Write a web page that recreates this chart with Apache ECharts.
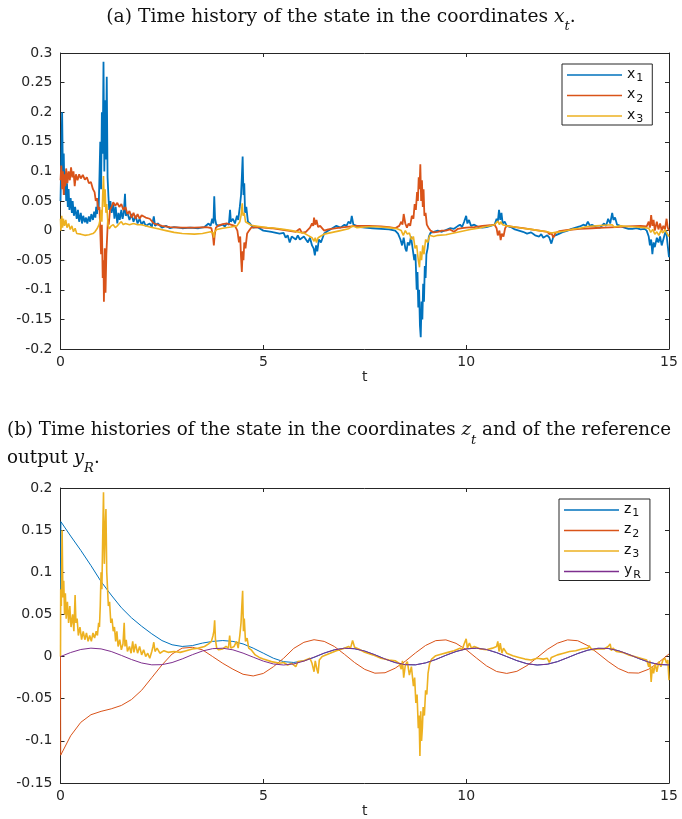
<!DOCTYPE html>
<html>
<head>
<meta charset="utf-8">
<script src="https://cdn.jsdelivr.net/npm/echarts@6/dist/echarts.min.js"></script>
<style>
html,body{margin:0;padding:0;background:#fff;}
#main{width:682px;height:819px;}
</style>
</head>
<body>
<div id="main"></div>
<script>
// panel (a): state in coordinates x_t, pairs [t, value]
var x1 = [[0,0.05],[0.02,0.12],[0.04,0.2],[0.06,0.09],[0.08,0.13],[0.1,0.06],[0.12,0.1],[0.14,0.05],[0.16,0.08],[0.18,0.04],[0.2,0.07],[0.22,0.035],[0.25,0.055],[0.28,0.03],[0.3,0.05],[0.33,0.025],[0.36,0.04],[0.4,0.02],[0.43,0.035],[0.46,0.015],[0.5,0.03],[0.53,0.012],[0.56,0.025],[0.6,0.014],[0.63,0.022],[0.66,0.012],[0.7,0.024],[0.73,0.015],[0.76,0.028],[0.8,0.018],[0.83,0.032],[0.86,0.022],[0.88,0.04],[0.9,0.028],[0.92,0.05],[0.94,0.035],[0.96,0.09],[0.98,0.15],[1.0,0.07],[1.02,0.2],[1.04,0.13],[1.06,0.285],[1.08,0.1],[1.1,0.22],[1.12,0.12],[1.14,0.26],[1.16,0.09],[1.18,0.06],[1.2,0.035],[1.23,0.05],[1.26,0.03],[1.3,0.045],[1.33,0.02],[1.36,0.04],[1.4,0.012],[1.43,0.03],[1.46,0.018],[1.5,0.035],[1.53,0.02],[1.56,0.03],[1.59,0.062],[1.61,0.025],[1.65,0.03],[1.7,0.018],[1.75,0.028],[1.8,0.015],[1.85,0.025],[1.9,0.012],[1.95,0.02],[2.0,0.01],[2.05,0.016],[2.1,0.008],[2.2,0.012],[2.25,0.006],[2.3,0.024],[2.33,0.008],[2.4,0.012],[2.5,0.005],[2.6,0.008],[2.7,0.004],[2.8,0.006],[3.0,0.004],[3.2,0.005],[3.4,0.004],[3.55,0.006],[3.65,0.012],[3.7,0.008],[3.74,0.02],[3.77,0.012],[3.79,0.058],[3.81,0.02],[3.84,0.01],[3.9,0.008],[4.0,0.01],[4.05,0.007],[4.1,0.012],[4.15,0.01],[4.18,0.035],[4.2,0.015],[4.25,0.02],[4.3,0.012],[4.35,0.025],[4.38,0.018],[4.42,0.04],[4.45,0.06],[4.47,0.09],[4.49,0.125],[4.51,0.06],[4.53,0.08],[4.55,0.03],[4.58,0.04],[4.62,0.015],[4.67,0.012],[4.75,0.005],[4.85,0.006],[5.0,0.0],[5.2,-0.002],[5.4,-0.005],[5.5,-0.004],[5.55,-0.012],[5.6,-0.008],[5.65,-0.02],[5.7,-0.01],[5.8,-0.015],[5.85,-0.008],[5.9,-0.015],[6.0,-0.01],[6.1,-0.02],[6.15,-0.012],[6.2,-0.025],[6.24,-0.03],[6.27,-0.042],[6.3,-0.025],[6.33,-0.035],[6.37,-0.015],[6.42,-0.02],[6.5,-0.005],[6.6,0.0],[6.7,0.004],[6.8,0.008],[6.9,0.005],[7.0,0.01],[7.05,0.008],[7.1,0.015],[7.15,0.012],[7.18,0.025],[7.22,0.01],[7.3,0.008],[7.4,0.006],[7.5,0.005],[7.7,0.004],[7.9,0.003],[8.1,0.002],[8.25,0.0],[8.32,-0.005],[8.38,-0.015],[8.42,-0.025],[8.46,-0.012],[8.5,-0.03],[8.53,-0.035],[8.56,-0.02],[8.6,-0.025],[8.64,-0.01],[8.68,-0.03],[8.72,-0.05],[8.75,-0.04],[8.78,-0.1],[8.8,-0.07],[8.82,-0.13],[8.84,-0.1],[8.86,-0.16],[8.88,-0.18],[8.9,-0.12],[8.92,-0.15],[8.94,-0.09],[8.96,-0.12],[8.98,-0.06],[9.0,-0.08],[9.02,-0.04],[9.05,-0.03],[9.08,-0.01],[9.12,-0.004],[9.2,-0.002],[9.3,0.0],[9.4,-0.002],[9.5,0.001],[9.6,0.004],[9.7,0.003],[9.8,0.008],[9.85,0.01],[9.9,0.006],[9.95,0.015],[9.98,0.012],[10.0,0.025],[10.03,0.012],[10.07,0.018],[10.12,0.008],[10.2,0.01],[10.3,0.006],[10.4,0.005],[10.5,0.006],[10.6,0.008],[10.7,0.01],[10.75,0.02],[10.78,0.015],[10.81,0.035],[10.84,0.018],[10.87,0.03],[10.9,0.012],[10.95,0.015],[11.0,0.008],[11.1,0.006],[11.2,0.002],[11.3,0.0],[11.4,-0.002],[11.5,-0.005],[11.6,-0.003],[11.7,-0.008],[11.8,-0.01],[11.85,-0.006],[11.9,-0.012],[12.0,-0.008],[12.05,-0.012],[12.1,-0.022],[12.15,-0.01],[12.2,-0.008],[12.3,-0.005],[12.4,-0.002],[12.5,0.0],[12.6,0.003],[12.7,0.005],[12.8,0.007],[12.9,0.01],[12.95,0.008],[13.0,0.015],[13.05,0.008],[13.1,0.01],[13.2,0.006],[13.3,0.005],[13.4,0.012],[13.45,0.008],[13.5,0.02],[13.55,0.012],[13.6,0.03],[13.63,0.018],[13.67,0.022],[13.72,0.01],[13.8,0.008],[13.9,0.005],[14.0,0.003],[14.1,0.003],[14.2,0.004],[14.3,0.002],[14.4,0.003],[14.45,0.0],[14.5,-0.01],[14.53,-0.025],[14.56,-0.015],[14.59,-0.04],[14.62,-0.02],[14.65,-0.028],[14.7,-0.012],[14.74,-0.02],[14.78,-0.01],[14.82,-0.025],[14.86,-0.015],[14.9,-0.005],[14.93,0.0],[14.96,-0.02],[15.0,-0.045]];

var x2 = [[0,0.085],[0.02,0.11],[0.04,0.07],[0.06,0.1],[0.08,0.06],[0.1,0.095],[0.12,0.075],[0.14,0.105],[0.17,0.08],[0.2,0.1],[0.23,0.085],[0.26,0.107],[0.29,0.09],[0.32,0.1],[0.35,0.075],[0.38,0.095],[0.42,0.085],[0.46,0.095],[0.5,0.088],[0.55,0.094],[0.6,0.086],[0.65,0.09],[0.7,0.08],[0.75,0.082],[0.8,0.07],[0.84,0.065],[0.87,0.05],[0.9,0.055],[0.93,0.035],[0.96,0.04],[0.98,0.0],[1.0,-0.04],[1.02,0.01],[1.04,-0.08],[1.06,-0.05],[1.07,-0.12],[1.09,-0.03],[1.11,-0.105],[1.13,-0.04],[1.15,-0.01],[1.17,0.02],[1.19,0.01],[1.22,0.035],[1.26,0.04],[1.3,0.048],[1.35,0.042],[1.4,0.047],[1.45,0.04],[1.5,0.045],[1.55,0.035],[1.6,0.04],[1.65,0.028],[1.7,0.033],[1.75,0.022],[1.8,0.03],[1.85,0.02],[1.9,0.028],[1.95,0.02],[2.0,0.026],[2.1,0.022],[2.2,0.02],[2.3,0.012],[2.4,0.01],[2.5,0.008],[2.7,0.006],[3.0,0.005],[3.3,0.005],[3.6,0.006],[3.72,0.004],[3.76,-0.01],[3.78,-0.025],[3.8,-0.008],[3.83,0.005],[3.9,0.009],[4.0,0.011],[4.1,0.012],[4.2,0.01],[4.3,0.008],[4.36,0.0],[4.4,-0.02],[4.43,-0.01],[4.45,-0.045],[4.47,-0.07],[4.49,-0.035],[4.51,-0.05],[4.53,-0.02],[4.56,-0.03],[4.6,-0.005],[4.65,0.0],[4.7,0.005],[4.8,0.006],[5.0,0.005],[5.2,0.004],[5.4,0.002],[5.6,0.0],[5.8,-0.002],[5.9,0.003],[5.95,-0.004],[6.05,-0.002],[6.15,0.005],[6.2,0.012],[6.23,0.008],[6.25,0.022],[6.28,0.01],[6.31,0.018],[6.35,0.006],[6.4,0.008],[6.5,0.0],[6.6,0.002],[6.8,0.004],[7.0,0.006],[7.3,0.008],[7.6,0.008],[7.9,0.007],[8.1,0.006],[8.25,0.004],[8.35,0.008],[8.4,0.015],[8.43,0.01],[8.46,0.028],[8.5,0.012],[8.54,0.005],[8.58,0.012],[8.62,0.008],[8.66,0.025],[8.7,0.02],[8.73,0.045],[8.76,0.035],[8.79,0.065],[8.81,0.05],[8.83,0.09],[8.85,0.07],[8.87,0.112],[8.89,0.05],[8.91,0.085],[8.93,0.04],[8.95,0.07],[8.97,0.025],[9.0,0.03],[9.03,0.01],[9.07,0.005],[9.12,0.0],[9.2,-0.003],[9.3,-0.002],[9.4,0.0],[9.5,0.0],[9.6,0.002],[9.7,-0.002],[9.8,0.003],[9.9,0.004],[10.0,0.005],[10.2,0.006],[10.4,0.008],[10.6,0.009],[10.7,0.01],[10.75,0.004],[10.78,-0.008],[10.82,0.0],[10.85,-0.016],[10.88,-0.005],[10.92,-0.01],[10.96,0.004],[11.0,0.008],[11.2,0.006],[11.4,0.004],[11.6,0.002],[11.8,0.0],[12.0,-0.002],[12.05,-0.006],[12.1,-0.004],[12.15,-0.012],[12.2,-0.004],[12.3,-0.001],[12.5,0.001],[12.8,0.003],[13.1,0.004],[13.4,0.005],[13.7,0.006],[14.0,0.007],[14.3,0.008],[14.45,0.007],[14.5,0.015],[14.53,0.005],[14.56,0.026],[14.59,0.008],[14.62,0.018],[14.65,0.0],[14.7,0.015],[14.74,0.002],[14.78,0.012],[14.82,0.0],[14.86,0.008],[14.9,0.002],[14.94,0.02],[14.97,0.005],[15.0,0.0]];

var x3 = [[0,0.02],[0.01,0.0],[0.03,0.025],[0.05,0.005],[0.07,0.02],[0.1,0.008],[0.13,0.018],[0.16,0.005],[0.2,0.012],[0.24,0.002],[0.28,0.008],[0.32,-0.002],[0.36,0.004],[0.4,-0.005],[0.5,-0.006],[0.6,-0.008],[0.7,-0.007],[0.8,-0.005],[0.85,-0.002],[0.9,0.003],[0.95,0.01],[0.98,0.02],[1.0,0.035],[1.02,0.015],[1.04,0.06],[1.06,0.092],[1.08,0.04],[1.1,0.07],[1.12,0.03],[1.14,0.045],[1.17,0.01],[1.2,0.003],[1.25,0.008],[1.3,0.01],[1.35,0.005],[1.4,0.008],[1.45,0.012],[1.5,0.015],[1.55,0.01],[1.6,0.012],[1.7,0.01],[1.8,0.012],[1.9,0.01],[2.0,0.01],[2.2,0.006],[2.4,0.003],[2.6,0.0],[2.8,-0.003],[3.0,-0.005],[3.3,-0.006],[3.5,-0.005],[3.7,-0.002],[3.76,-0.004],[3.78,-0.012],[3.8,-0.002],[3.85,0.002],[4.0,0.004],[4.2,0.006],[4.35,0.008],[4.42,0.015],[4.45,0.025],[4.48,0.046],[4.5,0.025],[4.53,0.03],[4.56,0.015],[4.6,0.012],[4.7,0.009],[4.9,0.007],[5.1,0.005],[5.3,0.004],[5.5,0.002],[5.7,0.0],[5.9,-0.003],[6.0,-0.004],[6.1,-0.008],[6.2,-0.012],[6.25,-0.018],[6.28,-0.012],[6.31,-0.02],[6.35,-0.012],[6.4,-0.01],[6.5,-0.006],[6.7,-0.003],[6.9,0.0],[7.1,0.003],[7.2,0.008],[7.3,0.005],[7.5,0.006],[7.7,0.007],[7.9,0.006],[8.1,0.005],[8.3,0.003],[8.4,0.0],[8.45,-0.008],[8.5,0.0],[8.55,-0.006],[8.6,-0.004],[8.65,-0.015],[8.7,-0.01],[8.74,-0.03],[8.78,-0.025],[8.82,-0.05],[8.85,-0.062],[8.87,-0.035],[8.9,-0.05],[8.93,-0.025],[8.96,-0.04],[9.0,-0.015],[9.05,-0.02],[9.1,-0.008],[9.2,-0.01],[9.3,-0.008],[9.5,-0.007],[9.7,-0.004],[9.9,-0.001],[10.1,0.002],[10.3,0.004],[10.5,0.007],[10.7,0.01],[10.78,0.016],[10.82,0.01],[10.85,0.015],[10.9,0.01],[11.0,0.008],[11.2,0.006],[11.4,0.004],[11.6,0.002],[11.8,0.0],[12.0,-0.002],[12.1,-0.004],[12.2,-0.003],[12.4,-0.001],[12.6,0.002],[12.8,0.004],[13.0,0.007],[13.2,0.008],[13.4,0.009],[13.6,0.01],[13.65,0.006],[13.8,0.008],[14.0,0.007],[14.2,0.006],[14.4,0.005],[14.5,0.004],[14.55,-0.003],[14.6,0.002],[14.65,-0.006],[14.7,-0.002],[14.75,-0.008],[14.8,0.0],[14.85,-0.004],[14.9,0.002],[14.95,-0.005],[15.0,-0.01]];

// panel (b): state in coordinates z_t and reference output y_R
var z1 = [[0,0.08],[0.01,0.16],[0.25,0.143],[0.5,0.126],[0.75,0.108],[1,0.089],[1.25,0.073],[1.5,0.058],[1.75,0.046],[2,0.036],[2.25,0.027],[2.5,0.019],[2.75,0.014],[3,0.012],[3.25,0.013],[3.5,0.016],[3.75,0.018],[4,0.019],[4.25,0.018],[4.5,0.015],[4.75,0.01],[5,0.004],[5.25,-0.002],[5.5,-0.006],[5.75,-0.007],[6,-0.005],[6.25,-0.001],[6.5,0.004],[6.75,0.008],[7,0.0099],[7.25,0.0093],[7.5,0.0065],[7.75,0.0021],[8,-0.0029],[8.25,-0.0071],[8.5,-0.0096],[8.75,-0.0098],[9,-0.0075],[9.25,-0.0035],[9.5,0.0015],[9.75,0.006],[10,0.0091],[10.25,0.01],[10.5,0.0084],[10.75,0.0047],[11,0.0],[11.25,-0.0048],[11.5,-0.0085],[11.75,-0.01],[12,-0.0091],[12.25,-0.006],[12.5,-0.0013],[12.75,0.0036],[13,0.0076],[13.25,0.0098],[13.5,0.0096],[13.75,0.007],[14,0.0027],[14.25,-0.0022],[14.5,-0.0066],[14.75,-0.0094],[15,-0.0099]];

var z2 = [[0,0.0],[0.005,-0.117],[0.25,-0.094],[0.5,-0.078],[0.75,-0.069],[1,-0.065],[1.25,-0.062],[1.5,-0.058],[1.75,-0.051],[2,-0.04],[2.25,-0.025],[2.5,-0.01],[2.75,0.003],[3,0.01],[3.25,0.011],[3.5,0.008],[3.75,0.0],[4,-0.008],[4.25,-0.015],[4.5,-0.021],[4.75,-0.023],[5,-0.02],[5.25,-0.012],[5.5,-0.002],[5.75,0.0097],[6,0.0169],[6.25,0.02],[6.5,0.018],[6.75,0.012],[7,0.0027],[7.25,-0.0071],[7.5,-0.0152],[7.75,-0.0197],[8,-0.0192],[8.25,-0.0138],[8.5,-0.0055],[8.75,0.0043],[9,0.0132],[9.25,0.0189],[9.5,0.0198],[9.75,0.0157],[10,0.0082],[10.25,-0.0016],[10.5,-0.011],[10.75,-0.0177],[11,-0.02],[11.25,-0.0175],[11.5,-0.0107],[11.75,-0.0012],[12,0.0085],[12.25,0.0159],[12.5,0.0198],[12.75,0.0188],[13,0.0129],[13.25,0.0038],[13.5,-0.0058],[13.75,-0.0141],[14,-0.0192],[14.25,-0.0196],[14.5,-0.015],[14.75,-0.0067],[15,0.0031]];

var z3 = [[0,0.0],[0.005,0.08],[0.02,0.06],[0.04,0.15],[0.06,0.07],[0.08,0.09],[0.1,0.05],[0.12,0.075],[0.14,0.045],[0.17,0.065],[0.2,0.04],[0.23,0.06],[0.26,0.035],[0.3,0.05],[0.33,0.03],[0.36,0.073],[0.38,0.04],[0.41,0.045],[0.44,0.025],[0.48,0.035],[0.52,0.02],[0.56,0.03],[0.6,0.02],[0.64,0.028],[0.68,0.018],[0.72,0.025],[0.76,0.018],[0.8,0.028],[0.84,0.022],[0.88,0.03],[0.91,0.025],[0.94,0.04],[0.96,0.035],[0.98,0.06],[1.0,0.1],[1.02,0.08],[1.04,0.14],[1.06,0.195],[1.08,0.11],[1.1,0.15],[1.12,0.175],[1.14,0.1],[1.16,0.08],[1.18,0.06],[1.21,0.065],[1.24,0.04],[1.27,0.045],[1.3,0.03],[1.33,0.035],[1.36,0.018],[1.39,0.03],[1.42,0.012],[1.46,0.02],[1.5,0.008],[1.54,0.015],[1.57,0.04],[1.59,0.012],[1.62,0.02],[1.65,0.006],[1.7,0.012],[1.74,0.004],[1.78,0.018],[1.81,0.005],[1.85,0.015],[1.9,0.004],[1.95,0.012],[2.0,0.002],[2.05,0.008],[2.1,0.0],[2.15,0.004],[2.2,-0.002],[2.25,0.006],[2.28,0.012],[2.3,0.017],[2.33,0.006],[2.38,0.01],[2.45,0.004],[2.55,0.007],[2.65,0.005],[2.8,0.006],[2.95,0.005],[3.1,0.007],[3.25,0.009],[3.4,0.01],[3.55,0.012],[3.65,0.015],[3.72,0.018],[3.76,0.025],[3.78,0.03],[3.8,0.043],[3.82,0.02],[3.85,0.01],[3.9,0.008],[4.0,0.009],[4.08,0.012],[4.14,0.01],[4.17,0.025],[4.2,0.01],[4.28,0.012],[4.34,0.018],[4.38,0.01],[4.42,0.025],[4.45,0.04],[4.47,0.06],[4.49,0.078],[4.51,0.03],[4.53,0.045],[4.56,0.018],[4.6,0.022],[4.64,0.01],[4.7,0.008],[4.8,0.002],[4.9,-0.001],[5.0,-0.003],[5.2,-0.006],[5.4,-0.008],[5.5,-0.007],[5.6,-0.01],[5.7,-0.008],[5.8,-0.012],[5.85,-0.006],[6.0,-0.005],[6.15,-0.002],[6.2,-0.008],[6.25,-0.018],[6.28,-0.005],[6.32,-0.015],[6.35,-0.02],[6.38,-0.004],[6.45,0.0],[6.6,0.003],[6.8,0.007],[7.0,0.01],[7.1,0.012],[7.15,0.01],[7.2,0.019],[7.25,0.011],[7.35,0.009],[7.5,0.005],[7.7,0.002],[7.9,-0.002],[8.1,-0.004],[8.25,-0.005],[8.35,-0.008],[8.4,-0.015],[8.43,-0.005],[8.46,-0.025],[8.5,-0.01],[8.55,-0.006],[8.6,-0.022],[8.65,-0.012],[8.7,-0.035],[8.73,-0.025],[8.76,-0.055],[8.79,-0.045],[8.82,-0.085],[8.84,-0.07],[8.86,-0.118],[8.88,-0.065],[8.9,-0.1],[8.92,-0.085],[8.94,-0.06],[8.97,-0.07],[9.0,-0.04],[9.03,-0.045],[9.06,-0.02],[9.1,-0.008],[9.15,-0.003],[9.25,0.001],[9.4,0.003],[9.55,0.005],[9.7,0.007],[9.85,0.01],[9.9,0.008],[9.95,0.015],[10.0,0.021],[10.03,0.01],[10.08,0.016],[10.13,0.01],[10.2,0.012],[10.35,0.009],[10.5,0.008],[10.65,0.01],[10.75,0.012],[10.78,0.018],[10.81,0.006],[10.84,0.016],[10.88,0.004],[10.92,0.01],[11.0,0.004],[11.15,0.001],[11.3,-0.001],[11.45,-0.003],[11.6,-0.004],[11.75,-0.002],[11.9,-0.003],[12.0,-0.002],[12.05,-0.007],[12.1,-0.001],[12.25,0.002],[12.4,0.004],[12.55,0.006],[12.7,0.007],[12.85,0.009],[13.0,0.01],[13.03,0.013],[13.1,0.008],[13.25,0.009],[13.4,0.009],[13.5,0.012],[13.55,0.015],[13.58,0.007],[13.62,0.01],[13.7,0.006],[13.85,0.005],[14.0,0.002],[14.15,0.0],[14.3,-0.002],[14.45,-0.004],[14.5,-0.012],[14.53,-0.005],[14.56,-0.03],[14.59,-0.012],[14.62,-0.02],[14.66,-0.008],[14.7,-0.018],[14.75,-0.006],[14.8,-0.012],[14.85,-0.004],[14.9,-0.002],[14.94,-0.008],[14.97,-0.004],[15.0,-0.028]];

var yR = [[0,0],[0.25,0.0048],[0.5,0.0084],[0.75,0.01],[1,0.0091],[1.25,0.006],[1.5,0.0014],[1.75,-0.0035],[2,-0.0076],[2.25,-0.0098],[2.5,-0.0096],[2.75,-0.0071],[3,-0.0028],[3.25,0.0022],[3.5,0.0066],[3.75,0.0094],[4,0.0099],[4.25,0.008],[4.5,0.0041],[4.75,-0.0007],[5,-0.0054],[5.25,-0.0088],[5.5,-0.01],[5.75,-0.0087],[6,-0.0054],[6.25,-0.0007],[6.5,0.0042],[6.75,0.008],[7,0.0099],[7.25,0.0093],[7.5,0.0065],[7.75,0.0021],[8,-0.0029],[8.25,-0.0071],[8.5,-0.0096],[8.75,-0.0098],[9,-0.0075],[9.25,-0.0035],[9.5,0.0015],[9.75,0.006],[10,0.0091],[10.25,0.01],[10.5,0.0084],[10.75,0.0047],[11,0.0],[11.25,-0.0048],[11.5,-0.0085],[11.75,-0.01],[12,-0.0091],[12.25,-0.006],[12.5,-0.0013],[12.75,0.0036],[13,0.0076],[13.25,0.0098],[13.5,0.0096],[13.75,0.007],[14,0.0027],[14.25,-0.0022],[14.5,-0.0066],[14.75,-0.0094],[15,-0.0099]];

var tTicks = {min: 0, max: 15, interval: 5};
var yRangeA = {min: -0.2, max: 0.3, interval: 0.05};
var yRangeB = {min: -0.15, max: 0.2, interval: 0.05};

var colors = {blue: '#0072BD', red: '#D95319', yellow: '#EDB120', purple: '#7E2F8E'};
var axisColor = '#262626';
var serif = '"DejaVu Serif", "Liberation Serif", serif';
var sans = '"DejaVu Sans", sans-serif';

function xAx(gridIndex, top) {
    return {
        type: 'value', gridIndex: gridIndex, position: top ? 'top' : 'bottom',
        min: tTicks.min, max: tTicks.max, interval: tTicks.interval,
        name: top ? '' : 't', nameLocation: 'middle', nameGap: 21,
        nameTextStyle: {color: axisColor, fontFamily: sans, fontSize: 14},
        axisLine: {show: true, onZero: false, lineStyle: {color: axisColor, width: 1}},
        axisTick: {show: true, inside: true, length: 4, lineStyle: {color: axisColor}},
        axisLabel: {show: !top, color: axisColor, fontFamily: sans, fontSize: 14, margin: 6},
        splitLine: {show: false}
    };
}
function yAx(gridIndex, right, range) {
    return {
        type: 'value', gridIndex: gridIndex, position: right ? 'right' : 'left',
        min: range.min, max: range.max, interval: range.interval,
        axisLine: {show: true, onZero: false, lineStyle: {color: axisColor, width: 1}},
        axisTick: {show: true, inside: true, length: 4, lineStyle: {color: axisColor}},
        axisLabel: {show: !right, color: axisColor, fontFamily: sans, fontSize: 14, margin: 8},
        splitLine: {show: false}
    };
}
function line(name, data, color, xi, width) {
    return {
        name: name, type: 'line', data: data, xAxisIndex: xi, yAxisIndex: xi,
        showSymbol: false, symbol: 'none', animation: false, clip: true,
        lineStyle: {color: color, width: width}, itemStyle: {color: color}
    };
}

var subStyles = {
    n: {fontFamily: serif, fontSize: 18.7, fontWeight: 'normal', lineHeight: 26, color: '#111', verticalAlign: 'top'},
    i: {fontFamily: serif, fontSize: 18.7, fontWeight: 'normal', lineHeight: 26, color: '#111', fontStyle: 'italic', verticalAlign: 'top'},
    s: {fontFamily: serif, fontSize: 13, fontWeight: 'normal', lineHeight: 13, color: '#111', fontStyle: 'italic', padding: [12, 0, 0, 0], verticalAlign: 'top'}
};
var subStylesB = {
    n: {fontFamily: serif, fontSize: 18.3, fontWeight: 'normal', lineHeight: 28, color: '#111', verticalAlign: 'top'},
    i: {fontFamily: serif, fontSize: 18.3, fontWeight: 'normal', lineHeight: 28, color: '#111', fontStyle: 'italic', verticalAlign: 'top'},
    s: {fontFamily: serif, fontSize: 13, fontWeight: 'normal', lineHeight: 13, color: '#111', fontStyle: 'italic', padding: [13, 0, 0, 0], verticalAlign: 'top'}
};
var legendRich = {
    b: {fontFamily: sans, fontSize: 14, lineHeight: 16, color: '#111', verticalAlign: 'top'},
    s: {fontFamily: sans, fontSize: 11, lineHeight: 11, color: '#111', padding: [6, 0, 0, 1], verticalAlign: 'top'}
};
var legendLabel = {x1: '{b|x}{s|1}', x2: '{b|x}{s|2}', x3: '{b|x}{s|3}',
    z1: '{b|z}{s|1}', z2: '{b|z}{s|2}', z3: '{b|z}{s|3}', yR: '{b|y}{s|R}'};

var option = {
    backgroundColor: '#fff',
    animation: false,
    title: [{
        text: '{n|(a) Time history of the state in the coordinates }{i|x}{s|t}{n|.}',
        left: 'center', top: 8, padding: 0,
        textStyle: {fontWeight: 'normal', rich: subStyles}
    }, {
        text: '{n|(b) Time histories of the state in the coordinates }{i|z}{s|t}{n| and of the reference}\n{n|output }{i|y}{s|R}{n|.}',
        left: 7, top: 421, padding: 0,
        textStyle: {fontWeight: 'normal', rich: subStylesB}
    }],
    grid: [
        {left: 60.5, top: 53, width: 608.5, height: 296},
        {left: 60.5, top: 488, width: 608.5, height: 296}
    ],
    xAxis: [xAx(0, false), xAx(0, true), xAx(1, false), xAx(1, true)],
    yAxis: [yAx(0, false, yRangeA), yAx(0, true, yRangeA), yAx(1, false, yRangeB), yAx(1, true, yRangeB)],
    legend: [{
        data: ['x1', 'x2', 'x3'], orient: 'vertical', left: 562, top: 64,
        padding: [3, 9, 0, 5], itemGap: 3.5, itemWidth: 55, itemHeight: 1.5, icon: 'rect',
        borderColor: axisColor, borderWidth: 1, backgroundColor: '#fff',
        formatter: function (n) { return legendLabel[n]; },
        textStyle: {rich: legendRich}
    }, {
        data: ['z1', 'z2', 'z3', 'yR'], orient: 'vertical', left: 559, top: 499,
        padding: [3, 9, 0, 5], itemGap: 3.5, itemWidth: 55, itemHeight: 1.5, icon: 'rect',
        borderColor: axisColor, borderWidth: 1, backgroundColor: '#fff',
        formatter: function (n) { return legendLabel[n]; },
        textStyle: {rich: legendRich}
    }],
    series: [
        line('x1', x1, colors.blue, 0, 1.8),
        line('x2', x2, colors.red, 0, 1.8),
        line('x3', x3, colors.yellow, 0, 1.6),
        line('z1', z1, colors.blue, 2, 1),
        line('z2', z2, colors.red, 2, 1),
        line('z3', z3, colors.yellow, 2, 1.6),
        line('yR', yR, colors.purple, 2, 1)
    ]
};

var myChart = echarts.init(document.getElementById('main'), null, {renderer: 'canvas'});
myChart.setOption(option);
</script>
</body>
</html>
